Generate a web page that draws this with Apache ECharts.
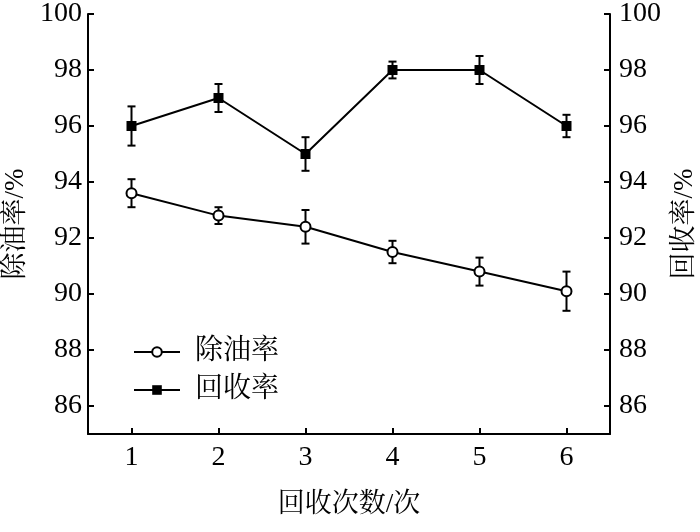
<!DOCTYPE html>
<html><head><meta charset="utf-8">
<script src="https://cdn.jsdelivr.net/npm/echarts@6/dist/echarts.min.js"></script>
<style>html,body{margin:0;padding:0;background:#fff}#c{width:700px;height:532px}</style>
</head><body><div id="c"></div>
<script>
const categories = ['1', '2', '3', '4', '5', '6'];
const oilRemoval = [93.6, 92.8, 92.4, 91.5, 90.8, 90.1];
const oilRemovalErr = [0.5, 0.3, 0.6, 0.4, 0.5, 0.7];
const recovery = [96, 97, 95, 98, 98, 96];
const recoveryErr = [0.7, 0.5, 0.6, 0.3, 0.5, 0.4];
const yTicks = [86, 88, 90, 92, 94, 96, 98, 100];

const FONT = "'Liberation Serif', 'Noto Serif CJK SC', 'Noto Sans CJK SC', serif";
const chart = echarts.init(document.getElementById('c'), null, {renderer: 'canvas'});

function errData(vals, errs) {
  return vals.map((v, i) => [i, v - errs[i], v + errs[i]]);
}
function errRender(params, api) {
  const x = api.value(0);
  const lo = api.coord([x, api.value(1)]);
  const hi = api.coord([x, api.value(2)]);
  const cap = 4;
  const style = {stroke: '#000', lineWidth: 2};
  return {
    type: 'group',
    children: [
      {type: 'line', shape: {x1: lo[0], y1: lo[1], x2: hi[0], y2: hi[1]}, style},
      {type: 'line', shape: {x1: lo[0] - cap, y1: lo[1], x2: lo[0] + cap, y2: lo[1]}, style},
      {type: 'line', shape: {x1: hi[0] - cap, y1: hi[1], x2: hi[0] + cap, y2: hi[1]}, style}
    ]
  };
}

const yAxisBase = {
  type: 'value', min: 85, max: 100,
  splitLine: {show: false},
  axisLine: {show: true, lineStyle: {color: '#000', width: 2}},
  axisTick: {show: true, inside: true, length: 6, lineStyle: {color: '#000', width: 2}, customValues: yTicks},
  axisLabel: {color: '#000', fontSize: 28, fontFamily: FONT, customValues: yTicks},
  nameLocation: 'middle', nameRotate: 90,
  nameTextStyle: {color: '#000', fontSize: 27, fontFamily: FONT}
};

chart.setOption({
  animation: false,
  backgroundColor: '#fff',
  grid: {left: 88, right: 90, top: 14, bottom: 98, containLabel: false, outerBoundsMode: 'none'},
  legend: {
    orient: 'vertical', left: 128, top: 333, itemGap: 10,
    itemWidth: 46, itemHeight: 12,
    textStyle: {color: '#000', fontSize: 28, fontFamily: FONT, padding: [0, 0, 0, 10]},
    data: ['除油率', '回收率']
  },
  xAxis: {
    type: 'category', data: categories, boundaryGap: true,
    name: '回收次数/次', nameLocation: 'middle', nameGap: 57,
    nameTextStyle: {color: '#000', fontSize: 27, fontFamily: FONT},
    axisLine: {lineStyle: {color: '#000', width: 2}},
    axisTick: {show: true, inside: true, length: 6, alignWithLabel: true, lineStyle: {color: '#000', width: 2}},
    axisLabel: {color: '#000', fontSize: 28, fontFamily: FONT, margin: 10},
    splitLine: {show: false}
  },
  yAxis: [
    Object.assign({}, yAxisBase, {position: 'left', name: '除油率/%', nameGap: 59,
      axisLabel: Object.assign({}, yAxisBase.axisLabel, {margin: 6})}),
    Object.assign({}, yAxisBase, {position: 'right', name: '回收率/%', nameGap: 61,
      axisLabel: Object.assign({}, yAxisBase.axisLabel, {margin: 9})})
  ],
  series: [
    {type: 'custom', name: 'err1', yAxisIndex: 0, renderItem: errRender, data: errData(oilRemoval, oilRemovalErr), z: 1, silent: true},
    {type: 'custom', name: 'err2', yAxisIndex: 1, renderItem: errRender, data: errData(recovery, recoveryErr), z: 1, silent: true},
    {type: 'line', name: '除油率', yAxisIndex: 0, data: oilRemoval, z: 5,
      symbol: 'circle', symbolSize: 10,
      lineStyle: {color: '#000', width: 2},
      itemStyle: {color: '#fff', borderColor: '#000', borderWidth: 2}},
    {type: 'line', name: '回收率', yAxisIndex: 1, data: recovery, z: 5,
      symbol: 'rect', symbolSize: 10,
      lineStyle: {color: '#000', width: 2},
      itemStyle: {color: '#000', borderColor: '#000', borderWidth: 0}}
  ]
});
</script></body></html>
